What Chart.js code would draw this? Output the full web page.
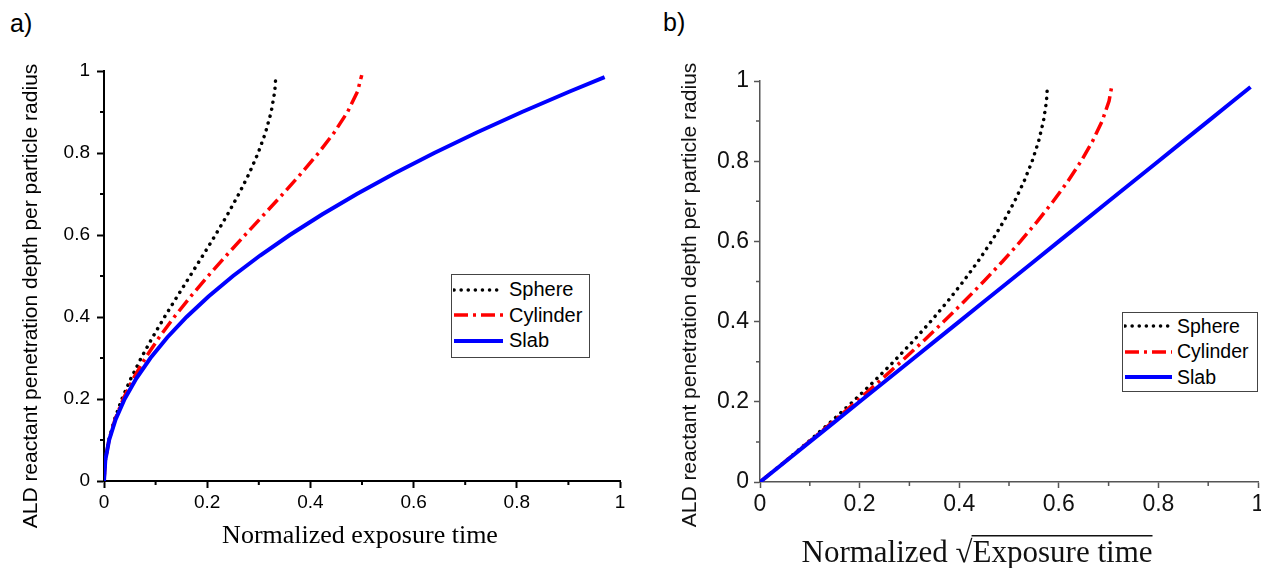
<!DOCTYPE html>
<html>
<head>
<meta charset="utf-8">
<title>ALD penetration depth</title>
<script src="https://cdn.jsdelivr.net/npm/chart.js@4.4.0/dist/chart.umd.min.js"></script>
<style>
body { margin:0; width:1261px; height:568px; overflow:hidden; background:#fff; position:relative; font-family:"Liberation Sans", Arial, sans-serif; }
.panel { position:absolute; top:0; }
.tag { position:absolute; font-size:25px; color:#000; }
.legend { position:absolute; box-sizing:border-box; border:1px solid #444; background:#fff; }
.legend div { display:flex; align-items:center; height:25.5px; font-size:20px; color:#000; }
.legend svg { margin-left:1px; }
.legend span { margin-left:5px; }
#legendB div { font-size:19.5px; }
#legendB span { margin-left:4px; }
</style>
</head>
<body>
<div class="tag" style="left:10px;top:9px">a)</div>
<div class="tag" style="left:663px;top:8px">b)</div>
<canvas id="chartA" class="panel" width="640" height="568" style="left:0"></canvas>
<canvas id="chartB" class="panel" width="640" height="568" style="left:640px"></canvas>
<div id="legendA" class="legend" style="left:451px;top:274px;width:139px;height:84px;padding-top:2px"></div>
<div id="legendB" class="legend" style="left:1122px;top:312px;width:136px;height:80px;padding-top:0.5px"></div>

<script>
// penetration depth per particle radius (y of both panels)
var depth = [0, 0.05, 0.1, 0.15, 0.2, 0.25, 0.3, 0.35, 0.4, 0.45, 0.5, 0.55, 0.6, 0.65, 0.7, 0.75, 0.8, 0.85, 0.9, 0.95, 0.99];
var slabDepth = [0, 0.05, 0.1, 0.15, 0.2, 0.25, 0.3, 0.35, 0.4, 0.45, 0.5, 0.55, 0.6, 0.65, 0.7, 0.75, 0.8, 0.85, 0.9, 0.95, 0.985];

// panel a) normalized exposure time
var sphereTime = [0, 0.0024, 0.0093, 0.0203, 0.0347, 0.0521, 0.072, 0.0939, 0.1173, 0.1418, 0.1667, 0.1916, 0.216, 0.2394, 0.2613, 0.2813, 0.2987, 0.3131, 0.324, 0.3309, 0.3332];
var cylinderTime = [0, 0.0025, 0.0097, 0.0213, 0.0372, 0.0569, 0.0802, 0.1067, 0.1361, 0.1679, 0.2017, 0.2371, 0.2734, 0.3101, 0.3466, 0.3821, 0.4156, 0.4461, 0.472, 0.4913, 0.4995];
var slabTime = [0, 0.0025, 0.01, 0.0225, 0.04, 0.0625, 0.09, 0.1225, 0.16, 0.2025, 0.25, 0.3025, 0.36, 0.4225, 0.49, 0.5625, 0.64, 0.7225, 0.81, 0.9025, 0.9702];

// panel b) normalized sqrt(exposure time)
var sphereRoot = [0, 0.0492, 0.0966, 0.1423, 0.1862, 0.2282, 0.2683, 0.3065, 0.3425, 0.3765, 0.4082, 0.4377, 0.4648, 0.4893, 0.5112, 0.5303, 0.5465, 0.5595, 0.5692, 0.5753, 0.5773];
var cylinderRoot = [0, 0.0496, 0.0983, 0.1461, 0.1928, 0.2386, 0.2833, 0.3267, 0.3689, 0.4098, 0.4491, 0.4869, 0.5229, 0.5569, 0.5888, 0.6182, 0.6447, 0.6679, 0.687, 0.7009, 0.7068];
var slabRoot = [0, 0.05, 0.1, 0.15, 0.2, 0.25, 0.3, 0.35, 0.4, 0.45, 0.5, 0.55, 0.6, 0.65, 0.7, 0.75, 0.8, 0.85, 0.9, 0.95, 0.985];

var seriesNames = ["Sphere", "Cylinder", "Slab"];
var minorTicks = [0.1, 0.3, 0.5, 0.7, 0.9];

var yTitle = "ALD reactant penetration depth per particle radius";

// line looks
var looks = [
  {color: "#000000", width: 3.5, dash: [0.1, 7], cap: "round"},
  {color: "#ff0000", width: 3.5, dash: [14, 5, 3, 5], cap: "butt"},
  {color: "#0000ff", width: 4, dash: [], cap: "butt"}
];

function pts(xs, ys) {
  return xs.map(function (x, i) { return {x: x, y: ys[i]}; });
}

function makeDatasets(xsList, ysList) {
  return seriesNames.map(function (name, i) {
    return {
      label: name,
      data: pts(xsList[i], ysList[i]),
      showLine: true,
      pointRadius: 0,
      borderColor: looks[i].color,
      borderWidth: looks[i].width,
      borderDash: looks[i].dash,
      borderCapStyle: looks[i].cap,
      order: 3 - i
    };
  });
}

// short minor ticks at 0.1, 0.3 ...
var minorTickPlugin = {
  id: "minorTicks",
  afterDraw: function (chart, args, o) {
    var ctx = chart.ctx, a = chart.chartArea;
    var xs = chart.scales.x, ys = chart.scales.y;
    ctx.save();
    ctx.strokeStyle = o.color;
    ctx.lineWidth = o.width;
    ctx.beginPath();
    minorTicks.forEach(function (v) {
      var px = xs.getPixelForValue(v), py = ys.getPixelForValue(v);
      ctx.moveTo(px, a.bottom); ctx.lineTo(px, a.bottom + o.len);
      ctx.moveTo(a.left, py); ctx.lineTo(a.left - o.len, py);
    });
    ctx.stroke();
    ctx.restore();
  }
};

// axis titles, with optional overline (square root bar)
var titlePlugin = {
  id: "axisTitles",
  afterDraw: function (chart, args, o) {
    var ctx = chart.ctx;
    ctx.save();
    ctx.fillStyle = o.color;
    ctx.font = o.yFont;
    ctx.translate(o.yX, o.yY);
    ctx.rotate(-Math.PI / 2);
    ctx.textAlign = "center";
    ctx.textBaseline = "middle";
    ctx.fillText(yTitle, 0, 0);
    ctx.restore();

    ctx.save();
    ctx.fillStyle = o.color;
    ctx.font = o.xFont;
    ctx.textBaseline = "alphabetic";
    var total = 0;
    o.xParts.forEach(function (p) { total += ctx.measureText(p.text).width; });
    var x = o.xX - total / 2;
    o.xParts.forEach(function (p) {
      var w = ctx.measureText(p.text).width;
      ctx.fillText(p.text, x, o.xY);
      if (p.over) ctx.fillRect(x - 1, o.overY, w + 1, 1.5);
      x += w;
    });
    ctx.restore();
  }
};

function axis(c, fit) {
  var s = {
    type: "linear", min: 0, max: 1,
    border: {display: true, color: c.color, width: c.width},
    grid: {drawOnChartArea: false, color: c.color, tickColor: c.color, tickLength: c.tick, tickWidth: c.width},
    ticks: {
      stepSize: 0.2, padding: c.pad, color: c.text, maxRotation: 0, autoSkip: false,
      font: {family: "Liberation Sans", size: c.size},
      callback: function (v) { return String(Number(v.toFixed(1))); }
    }
  };
  s.afterFit = fit;
  return s;
}

Chart.register(minorTickPlugin, titlePlugin);

new Chart(document.getElementById("chartA"), {
  type: "scatter",
  data: {datasets: makeDatasets([sphereTime, cylinderTime, slabTime], [depth, depth, slabDepth])},
  options: {
    responsive: false, animation: false, devicePixelRatio: 1,
    layout: {padding: {left: 0, right: 20, top: 71, bottom: 0}},
    plugins: {
      legend: {display: false}, tooltip: {enabled: false},
      minorTicks: {color: "#000", width: 2, len: 4},
      axisTitles: {
        color: "#000",
        yFont: "21px 'Liberation Sans'", yX: 31, yY: 296,
        xFont: "26px 'Liberation Serif'", xX: 360, xY: 543,
        xParts: [{text: "Normalized exposure time"}]
      }
    },
    scales: {
      x: axis({color: "#000", width: 2, tick: 7, pad: 3, text: "#000", size: 19}, function (s) { s.height = 87; }),
      y: axis({color: "#000", width: 2, tick: 7, pad: 7, text: "#000", size: 19}, function (s) { s.width = 104; })
    }
  }
});

new Chart(document.getElementById("chartB"), {
  type: "scatter",
  data: {datasets: makeDatasets([sphereRoot, cylinderRoot, slabRoot], [depth, depth, slabDepth])},
  options: {
    responsive: false, animation: false, devicePixelRatio: 1,
    layout: {padding: {left: 0, right: 22, top: 81, bottom: 0}},
    plugins: {
      legend: {display: false}, tooltip: {enabled: false},
      minorTicks: {color: "#555", width: 1.5, len: 4},
      axisTitles: {
        color: "#111",
        yFont: "21px 'Liberation Sans'", yX: 50, yY: 295,
        xFont: "31px 'Liberation Serif'", xX: 337, xY: 562, overY: 535,
        xParts: [{text: "Normalized "}, {text: "\u221A"}, {text: "Exposure time", over: true}]
      }
    },
    scales: {
      x: axis({color: "#555", width: 1.5, tick: 6, pad: 3, text: "#111", size: 23}, function (s) { s.height = 86; }),
      y: axis({color: "#555", width: 1.5, tick: 6, pad: 5, text: "#111", size: 23}, function (s) { s.width = 120; })
    }
  }
});

function buildLegend(id, len) {
  var box = document.getElementById(id);
  seriesNames.forEach(function (name, i) {
    var l = looks[i];
    var row = document.createElement("div");
    row.innerHTML = '<svg width="' + len + '" height="8"><line x1="1" y1="4" x2="' + (len - 1) +
      '" y2="4" stroke="' + l.color + '" stroke-width="' + l.width + '" stroke-dasharray="' +
      (l.dash.length ? l.dash.join(" ") : "none") + '" stroke-linecap="' + l.cap + '"/></svg><span>' + name + '</span>';
    box.appendChild(row);
  });
}
buildLegend("legendA", 51);
buildLegend("legendB", 49);
</script>
</body>
</html>
